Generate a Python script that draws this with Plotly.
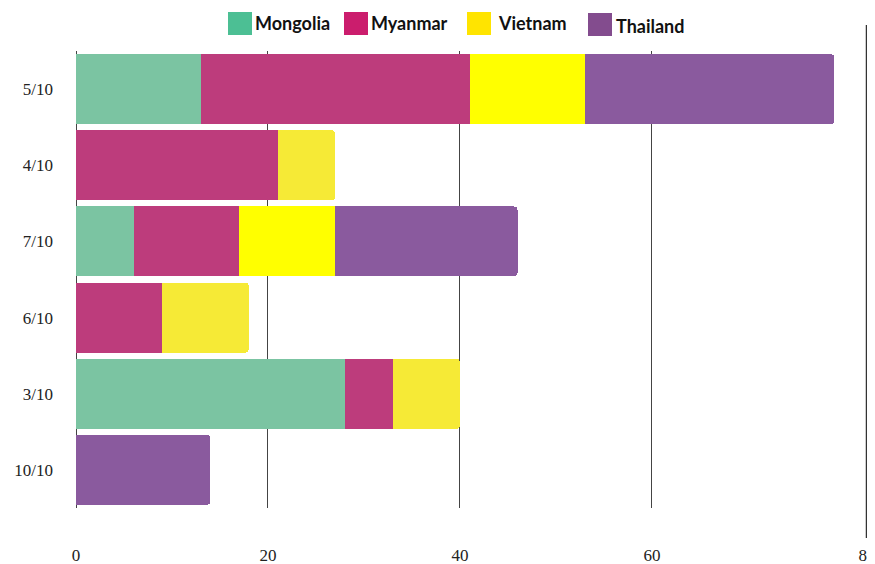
import plotly.graph_objects as go

# rows, top to bottom
categories = ["5/10", "4/10", "7/10", "6/10", "3/10", "10/10"]
mongolia = [13, None, 6, None, 28, None]
myanmar = [28, 21, 11, 9, 5, None]
vietnam = [12, 6, 10, 9, 7, None]
thailand = [26, None, 19, None, None, 14]

x_ticks = [0, 20, 40, 60, 82.4]
x_tick_text = ["0", "20", "40", "60", "80"]

bar_colors = {
    "Mongolia": "#7bc4a2",
    "Myanmar": "#bd3c7c",
    "Vietnam": "#ffff00",
    "Thailand": "#8a5a9e",
}
legend_colors = {
    "Mongolia": "#4cbf94",
    "Myanmar": "#cb1d6d",
    "Vietnam": "#ffe400",
    "Thailand": "#834c8e",
}

# the yellow looks a bit softer where it ends the row
vietnam_colors = ["#f6ea36" if t is None else "#ffff00" for t in thailand]

fig = go.Figure()
series = [
    ("Mongolia", mongolia, bar_colors["Mongolia"]),
    ("Myanmar", myanmar, bar_colors["Myanmar"]),
    ("Vietnam", vietnam, vietnam_colors),
    ("Thailand", thailand, bar_colors["Thailand"]),
]
for name, vals, col in series:
    fig.add_trace(go.Bar(
        y=categories, x=vals, name=name, orientation="h",
        marker=dict(color=col, line=dict(width=0)),
        showlegend=False,
    ))

# page body has an 8px margin, so figure coords are window coords minus 8
OFF = 8
W, H = 875, 564
L, R, T, B = 68, 16, 43, 64
PW, PH = W - L - R, H - T - B


def px(x):
    return (x - OFF - L) / PW


def py(y):
    return (H - B - (y - OFF)) / PH


# hand-made legend (big squares, bold text)
legend_items = [
    ("Mongolia", 228, 256),
    ("Myanmar", 344, 372),
    ("Vietnam", 467, 499),
    ("Thailand", 588, 617),
]
shapes = []
annotations = []
for name, sx, tx in legend_items:
    y0 = 12 if name != "Thailand" else 13
    shapes.append(dict(
        type="rect", xref="paper", yref="paper",
        x0=px(sx), x1=px(sx + 24), y0=py(y0 + 23), y1=py(y0),
        fillcolor=legend_colors[name], line=dict(width=0),
    ))
    ty = 23 if name != "Thailand" else 26
    annotations.append(dict(
        text="<b>" + name + "</b>", xref="paper", yref="paper",
        x=px(tx - 3), y=py(ty),
        xanchor="left", yanchor="middle", showarrow=False,
        font=dict(family="Lato", size=18, color="#111111"),
    ))

# right border line
shapes.append(dict(
    type="line", xref="paper", yref="paper",
    x0=1, x1=1, y0=py(538), y1=py(25),
    line=dict(color="#333333", width=2.5),
))

fig.update_layout(
    width=W, height=H,
    margin=dict(l=L, r=R, t=T, b=B),
    barmode="stack",
    bargap=0.08,
    barcornerradius=4,
    plot_bgcolor="white",
    paper_bgcolor="white",
    showlegend=False,
    shapes=shapes,
    annotations=annotations,
    xaxis=dict(
        range=[0, 82.4], automargin=False,
        tickvals=x_ticks, ticktext=x_tick_text,
        showgrid=True, gridcolor="#444444", gridwidth=1,
        zeroline=True, zerolinecolor="#444444", zerolinewidth=1,
        ticks="", ticklabelstandoff=35,
        tickfont=dict(family="Liberation Serif", size=17, color="#222222"),
        showline=False,
    ),
    yaxis=dict(
        autorange="reversed", automargin=False,
        showgrid=False, zeroline=False, showline=False,
        ticks="", ticklabelstandoff=22,
        tickfont=dict(family="Liberation Serif", size=17, color="#222222"),
    ),
)

fig.write_html("out.html")
